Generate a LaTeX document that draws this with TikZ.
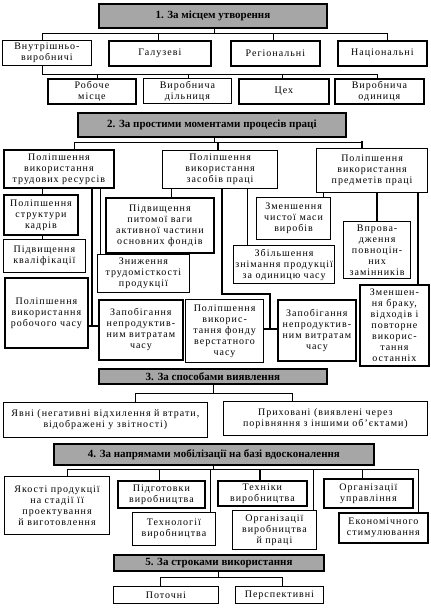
\documentclass[tikz,border=0pt]{standalone}
\usepackage{fontspec}
\setmainfont{Liberation Serif}[LetterSpace=10]
\newfontfamily\hdfont{Liberation Serif}
\definecolor{hdgray}{HTML}{A6A6A6}
\tikzset{
  bx/.style={draw, line width=0.8pt, fill=white, inner sep=0pt, align=center,
    anchor=north west, font=\fontsize{10}{11}\selectfont},
  tk/.style={line width=1.8pt},
  md/.style={line width=1.2pt},
  hd/.style={draw, line width=1.8pt, fill=hdgray, inner sep=0pt, align=center,
    anchor=north west, font=\hdfont\bfseries\fontsize{11}{12}\selectfont},
  ln/.style={line width=0.7pt},
  tl/.style={line width=1.8pt}
}
\begin{document}
\begin{tikzpicture}[x=1pt,y=-1pt]
\useasboundingbox (0,0) rectangle (431,611);
\fill[white] (0,0) rectangle (431,611);
% ---------- Section 1
\node[hd, minimum width=228, minimum height=24] (h1) at (98,3) {1. За місцем утворення};
\node[bx, minimum width=89, minimum height=25] (r1a) at (2,40) {Внутрішньо-\\виробничі};
\node[bx, tk, minimum width=102, minimum height=25] (r1b) at (108,40) {Галузеві};
\node[bx, tk, minimum width=89, minimum height=25] (r1c) at (230,40) {Регіональні};
\node[bx, tk, minimum width=89, minimum height=25] (r1d) at (337,40) {Національні};
\node[bx, tk, minimum width=88, minimum height=25] (r2a) at (47,78) {Робоче\\місце};
\node[bx, minimum width=88, minimum height=25] (r2b) at (143,78) {Виробнича\\дільниця};
\node[bx, tk, minimum width=90, minimum height=25] (r2c) at (238,78) {Цех};
\node[bx, tk, minimum width=89, minimum height=25] (r2d) at (334,78) {Виробнича\\одиниця};
% ---------- Section 2
\node[hd, minimum width=268, minimum height=24] (h2) at (77,112) {2. За простими моментами процесів праці};
\node[bx, tk, minimum width=110, minimum height=38] (A) at (3,149) {Поліпшення\\використання\\трудових ресурсів};
\node[bx, md, minimum width=115, minimum height=38] (B) at (162,150) {Поліпшення\\використання\\засобів праці};
\node[bx, md, minimum width=111, minimum height=44] (C) at (316,148) {Поліпшення\\використання\\предметів праці};
\node[bx, tk, minimum width=74, minimum height=40] (A1) at (3,194) {Поліпшення\\структури\\кадрів};
\node[bx, minimum width=82, minimum height=33] (A2) at (3,239) {Підвищення\\кваліфікації};
\node[bx, tk, minimum width=83, minimum height=70] (A3) at (4,277) {Поліпшення\\використання\\робочого часу};
\node[bx, tk, minimum width=108, minimum height=55] (B1) at (105,197) {Підвищення\\питомої ваги\\активної частини\\основних фондів};
\node[bx, minimum width=92, minimum height=38] (B2) at (97,254) {Зниження\\трудомісткості\\продукції};
\node[bx, tk, minimum width=84, minimum height=60] (Z1) at (98,299) {Запобігання\\непродуктив-\\ним витратам\\часу};
\node[bx, md, minimum width=78, minimum height=63] (F) at (185,299) {Поліпшення\\викорис-\\тання фонду\\верстатного\\часу};
\node[bx, md, minimum width=101, minimum height=38] (B3) at (233,245) {Збільшення\\знімання продукції\\за одиницю часу};
\node[bx, tk, minimum width=78, minimum height=61] (Z2) at (277,299) {Запобігання\\непродуктив-\\ним витратам\\часу};
\node[bx, md, minimum width=74, minimum height=42] (C1) at (256,197) {Зменшення\\чистої маси\\виробів};
\node[bx, md, minimum width=67, minimum height=57] (C2) at (343,221) {Впрова-\\дження\\повноцін-\\них\\замінників};
\node[bx, tk, minimum width=69, minimum height=81] (C3) at (359,284) {Зменшен-\\ня браку,\\відходів і\\повторне\\викорис-\\тання\\останніх};
% ---------- Section 3
\node[hd, minimum width=228, minimum height=15] (h3) at (98,368) {3. За способами виявлення};
\node[bx, minimum width=204, minimum height=35] (S1) at (3,402) {Явні (негативні відхилення й втрати,\\відображені у звітності)};
\node[bx, minimum width=204, minimum height=34] (S2) at (223,401) {Приховані (виявлені через\\порівняння з іншими об’єктами)};
% ---------- Section 4
\node[hd, minimum width=320, minimum height=21] (h4) at (53,443) {4. За напрямами мобілізації на базі вдосконалення};
\node[bx, md, minimum width=105, minimum height=58] (D1) at (4,476) {Якості продукції\\на стадії її\\проектування\\й виготовлення};
\node[bx, tk, minimum width=87, minimum height=27] (D2) at (117,480) {Підготовки\\виробництва};
\node[bx, minimum width=83, minimum height=33] (D3) at (132,512) {Технології\\виробництва};
\node[bx, tk, minimum width=89, minimum height=25] (D4) at (217,480) {Техніки\\виробництва};
\node[bx, minimum width=84, minimum height=39] (D5) at (232,510) {Організації\\виробництва\\й праці};
\node[bx, tk, minimum width=89, minimum height=29] (D6) at (323,478) {Організації\\управління};
\node[bx, tk, minimum width=89, minimum height=30] (D7) at (338,512) {Економічного\\стимулювання};
% ---------- Section 5
\node[hd, minimum width=210, minimum height=16] (h5) at (113,554) {5. За строками використання};
\node[bx, minimum width=105, minimum height=17] (P1) at (113,586) {Поточні};
\node[bx, minimum width=88, minimum height=17] (P2) at (235,586) {Перспективні};
% ---------- Connectors section 1
\draw[ln] (h1.south -| 214,0) -- (214,33);
\draw[ln] (r1a.north -| 42,0) -- (42,33) -- (387,33) -- (r1d.north -| 387,0);
\draw[ln] (r1b.north -| 158,0) -- (158,33);
\draw[ln] (r1c.north -| 273,0) -- (273,33);
\draw[ln] (r1a.south -| 42,0) -- (42,74) -- (377,74) -- (r2d.north -| 377,0);
\draw[ln] (r2a.north -| 97,0) -- (97,74);
\draw[ln] (r2b.north -| 188,0) -- (188,74);
\draw[ln] (r2c.north -| 282,0) -- (282,74);
% ---------- Connectors section 2
\draw[ln] (h2.south -| 214,0) -- (214,142);
\draw[ln] (A.north -| 74,0) -- (74,142) -- (362,142);
\draw[tl] (B.north -| 218,0) -- (218,142);
\draw[tl] (C.north -| 362,0) -- (362,141.1);
\draw[ln] (A.south -| 42,0) -- (A1.north -| 42,0);
\draw[ln] (A1.south -| 42,0) -- (A2.north -| 42,0);
\draw[tl] (A.south -| 92,0) -- (92,326);
\draw[tl] (A3.east |- 0,326) -- (Z1.west |- 0,326);
\draw[ln] (A.south -| 100,0) -- (B2.north -| 100,0);
\draw[ln] (B.south -| 171,0) -- (B1.north -| 171,0);
\draw[tl] (B.south -| 222,0) -- (222,294) -- (270,294) -- (270,329);
\draw[tl] (F.east |- 0,329) -- (Z2.west |- 0,329);
\draw[ln] (B.south -| 247,0) -- (B3.north -| 247,0);
\draw[ln] (C.south -| 323,0) -- (C1.north -| 323,0);
\draw[tl] (C.south -| 377,0) -- (C2.north -| 377,0);
\draw[tl] (C.south -| 418,0) -- (C3.north -| 418,0);
% ---------- Connectors section 3
\draw[ln] (h3.south -| 213,0) -- (213,393);
\draw[ln] (S1.north -| 135,0) -- (135,393) -- (292,393) -- (S2.north -| 292,0);
% ---------- Connectors section 4
\draw[ln] (h4.south -| 213,0) -- (213,469);
\draw[ln] (D1.north -| 67,0) -- (67,469) -- (418,469) -- (D7.north -| 418,0);
\draw[ln] (D2.north -| 159,0) -- (159,469);
\draw[ln] (D3.north -| 210,0) -- (210,469);
\draw[tl] (D4.north -| 260,0) -- (260,469);
\draw[ln] (D5.north -| 313,0) -- (313,469);
\draw[ln] (D6.north -| 362,0) -- (362,469);
% ---------- Connectors section 5
\draw[ln] (h5.south -| 218,0) -- (218,577);
\draw[ln] (P1.north -| 160,0) -- (160,577) -- (282,577) -- (P2.north -| 282,0);
\end{tikzpicture}
\end{document}
